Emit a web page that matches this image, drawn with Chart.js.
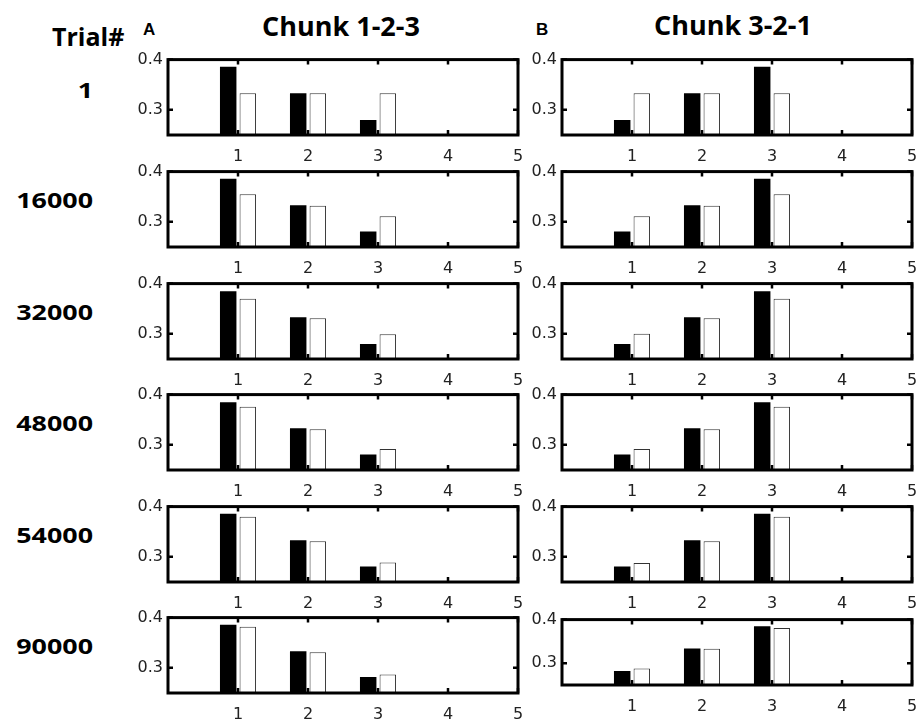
<!DOCTYPE html>
<html>
<head>
<meta charset="utf-8">
<script src="https://cdn.jsdelivr.net/npm/chart.js@4.4.0/dist/chart.umd.min.js"></script>
<style>
  body { margin: 0; background: #fff; }
  #fig { position: relative; width: 916px; height: 720px; overflow: hidden; }
  #fig canvas { position: absolute; }
  .lbl { position: absolute; font-family: 'Open Sans', sans-serif; font-weight: 700; color: #000; white-space: nowrap; }
  .panel-id { position: absolute; font-family: 'Liberation Sans', Arial, sans-serif; font-weight: 700; font-size: 17px; line-height: 20px; }
  .trial { position: absolute; left: 0; width: 93px; text-align: right; font-size: 22px; line-height: 30px;
           transform: scaleX(1.22); transform-origin: right center; }
</style>
</head>
<body>
<div id="fig">
  <div class="lbl" style="left:52px; top:21px; font-size:25px; line-height:30px;">Trial#</div>
  <div class="panel-id" style="left:143px; top:20px;">A</div>
  <div class="panel-id" style="left:536px; top:20px;">B</div>
  <div class="lbl" style="left:241px; top:8px; width:200px; text-align:center; font-size:27px; line-height:36px;">Chunk 1-2-3</div>
  <div class="lbl" style="left:633px; top:7px; width:200px; text-align:center; font-size:27px; line-height:36px;">Chunk 3-2-1</div>
</div>
<script>
  'use strict';

  var positions = [1, 2, 3];
  var xTicks = [1, 2, 3, 4, 5];
  var yTicks = [0.3, 0.4];
  var trials = ['1', '16000', '32000', '48000', '54000', '90000'];

  // chunk 1-2-3, one row per trial (black = first bar, white = second bar)
  var chunk123Black = [
    [0.386, 0.333, 0.280],
    [0.386, 0.333, 0.281],
    [0.385, 0.333, 0.280],
    [0.385, 0.333, 0.281],
    [0.386, 0.333, 0.281],
    [0.386, 0.333, 0.282]
  ];
  var chunk123White = [
    [0.333, 0.333, 0.333],
    [0.355, 0.332, 0.311],
    [0.370, 0.331, 0.299],
    [0.376, 0.331, 0.292],
    [0.380, 0.331, 0.289],
    [0.382, 0.331, 0.287]
  ];

  // chunk 3-2-1
  var chunk321Black = [
    [0.280, 0.333, 0.386],
    [0.281, 0.333, 0.386],
    [0.280, 0.333, 0.385],
    [0.281, 0.333, 0.385],
    [0.281, 0.333, 0.386],
    [0.282, 0.334, 0.385]
  ];
  var chunk321White = [
    [0.333, 0.333, 0.333],
    [0.311, 0.332, 0.355],
    [0.300, 0.331, 0.370],
    [0.292, 0.331, 0.376],
    [0.288, 0.331, 0.380],
    [0.288, 0.333, 0.381]
  ];

  Chart.defaults.font.family = "'DejaVu Sans', sans-serif";
  Chart.defaults.font.size = 16;
  Chart.defaults.color = '#222';

  var fig = document.getElementById('fig');

  var rowTop = [55, 167, 279, 390, 502, 613];
  var labelY = [89, 199, 311, 422, 534, 645];

  // thick box + inward tick marks, matlab style
  var framePlugin = {
    id: 'frame',
    afterDatasetsDraw: function (chart) {
      var a = chart.chartArea;
      var ctx = chart.ctx;
      var xs = chart.scales.x;
      var ys = chart.scales.y;
      ctx.save();
      ctx.strokeStyle = '#000';
      ctx.lineWidth = 2.5;
      ctx.beginPath();
      xs.ticks.forEach(function (t) {
        var px = xs.getPixelForValue(t.value);
        ctx.moveTo(px, a.top);
        ctx.lineTo(px, a.top + 5);
        ctx.moveTo(px, a.bottom);
        ctx.lineTo(px, a.bottom - 5);
      });
      ys.ticks.forEach(function (t) {
        var py = ys.getPixelForValue(t.value);
        ctx.moveTo(a.left, py);
        ctx.lineTo(a.left + 5, py);
        ctx.moveTo(a.right, py);
        ctx.lineTo(a.right - 5, py);
      });
      ctx.stroke();
      ctx.lineWidth = 3;
      ctx.strokeRect(a.left, a.top, a.right - a.left, a.bottom - a.top);
      ctx.restore();
    }
  };

  function toPoints(values) {
    return positions.map(function (p, i) { return { x: p, y: values[i] }; });
  }

  function drawPanel(left, top, width, plotH, padRight, black, white) {
    var canvas = document.createElement('canvas');
    canvas.width = width;
    canvas.height = 10 + plotH + 34;
    canvas.style.left = left + 'px';
    canvas.style.top = (top - 10) + 'px';
    fig.appendChild(canvas);

    new Chart(canvas, {
      type: 'bar',
      data: {
        datasets: [
          {
            data: toPoints(black),
            backgroundColor: '#000',
            borderWidth: 0,
            base: 0.25,
            categoryPercentage: 0.56,
            barPercentage: 0.84
          },
          {
            data: toPoints(white),
            backgroundColor: '#fff',
            borderColor: '#333',
            borderWidth: 1,
            base: 0.25,
            categoryPercentage: 0.56,
            barPercentage: 0.84
          }
        ]
      },
      options: {
        responsive: false,
        animation: false,
        layout: { padding: { top: 10, right: padRight, bottom: 0, left: 0 } },
        plugins: { legend: { display: false }, tooltip: { enabled: false } },
        scales: {
          x: {
            type: 'linear',
            min: 0,
            max: 5,
            offset: false,
            afterBuildTicks: function (s) {
              s.ticks = xTicks.map(function (v) { return { value: v }; });
            },
            afterFit: function (s) {
              s.height = 34;
              // let the "5" hang over the edge like the original
              s.paddingLeft = 0;
              s.paddingRight = 0;
            },
            grid: { display: false, drawTicks: false },
            border: { display: false },
            ticks: { padding: 12, maxRotation: 0, callback: function (v) { return v; } }
          },
          y: {
            min: 0.25,
            max: 0.4,
            afterBuildTicks: function (s) {
              s.ticks = yTicks.map(function (v) { return { value: v }; });
            },
            afterFit: function (s) { s.width = 50; },
            grid: { display: false, drawTicks: false },
            border: { display: false },
            ticks: { padding: 5, callback: function (v) { return v.toFixed(1); } }
          }
        }
      },
      plugins: [framePlugin]
    });
  }

  trials.forEach(function (t, r) {
    var d = document.createElement('div');
    d.className = 'lbl trial';
    d.style.top = (labelY[r] - 15) + 'px';
    d.textContent = t;
    fig.appendChild(d);

    drawPanel(118, rowTop[r], 410, 80, 10, chunk123Black[r], chunk123White[r]);
    if (r === 5) {
      drawPanel(512, 615, 404, 70, 4, chunk321Black[r], chunk321White[r]);
    } else {
      drawPanel(512, rowTop[r], 404, 80, 4, chunk321Black[r], chunk321White[r]);
    }
  });
</script>
</body>
</html>
